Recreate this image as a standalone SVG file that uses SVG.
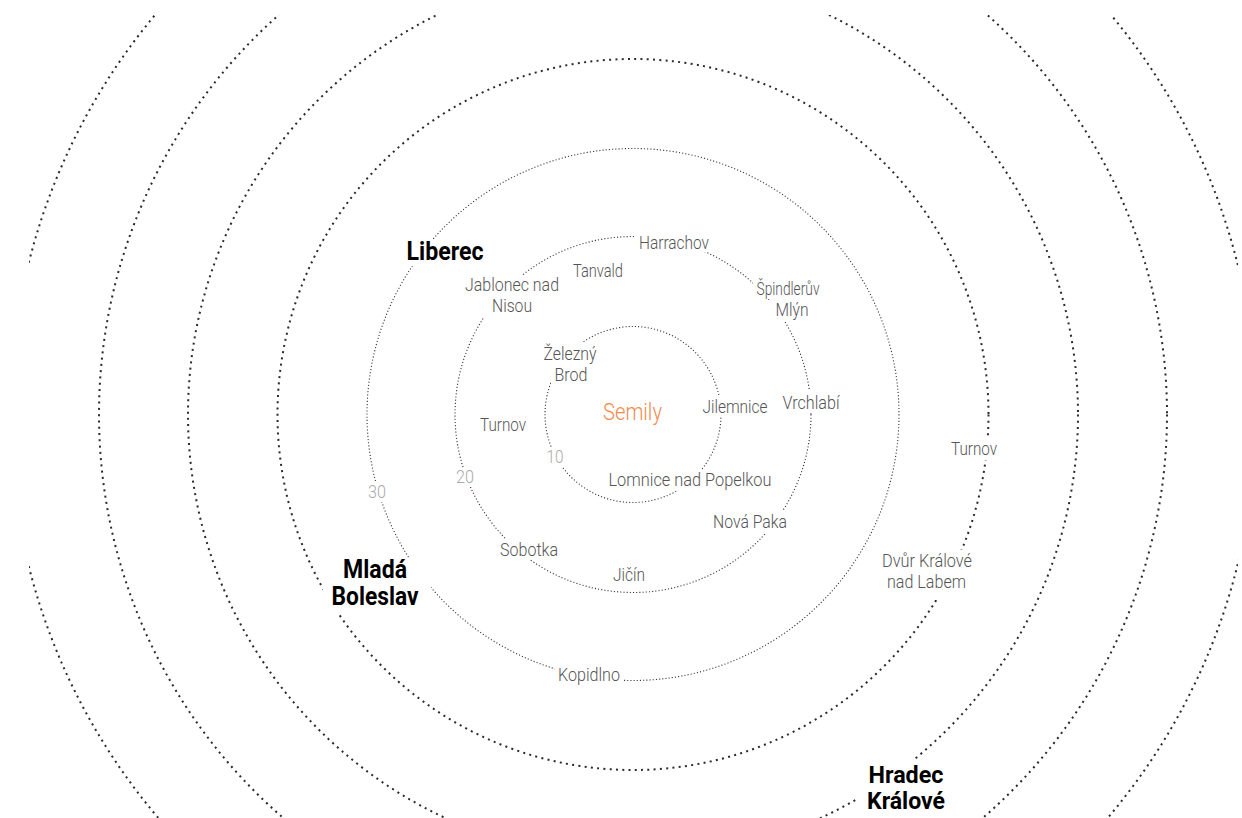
<svg xmlns="http://www.w3.org/2000/svg" width="1242" height="818" viewBox="0 0 1242 818">
<style>
.fine{fill:none;stroke:#333;stroke-width:1.1;stroke-dasharray:1.1 2.1}
.bold{fill:none;stroke:#2a2a2a;stroke-width:2;stroke-dasharray:2 4.3}
.bg{fill:#fff}
.t{font-family:Roboto,"Liberation Sans",sans-serif;font-weight:300;font-size:19px;fill:#555;text-anchor:middle}
.n{font-family:Roboto,"Liberation Sans",sans-serif;font-weight:300;font-size:18px;fill:#aaa;text-anchor:middle}
.b{font-family:Roboto,"Liberation Sans",sans-serif;font-weight:700;font-size:25px;fill:#000;text-anchor:middle}
.b2{font-family:Roboto,"Liberation Sans",sans-serif;font-weight:700;font-size:23.5px;fill:#000;text-anchor:middle}
.c{font-family:Roboto,"Liberation Sans",sans-serif;font-weight:300;font-size:24px;fill:#f28a4c;text-anchor:middle}
</style>
<defs>
<clipPath id="clip"><rect x="29" y="15" width="1209" height="803"/></clipPath>
</defs>
<rect width="1242" height="818" fill="#fff"/>
<g id="rings" clip-path="url(#clip)">
<circle class="fine" cx="633" cy="414.5" r="88"/>
<circle class="fine" cx="633" cy="414.5" r="178"/>
<circle class="fine" cx="633" cy="414.5" r="266"/>
<circle class="bold" cx="633" cy="414.5" r="355.5"/>
<circle class="bold" cx="633" cy="414.5" r="445"/>
<circle class="bold" cx="633" cy="414.5" r="534"/>
<circle class="bold" cx="633" cy="414.5" r="623"/>
</g>
<g id="semily"><rect class="bg" x="599" y="400" width="66" height="26"/><text class="c" x="632.5" y="420" textLength="59" lengthAdjust="spacingAndGlyphs">Semily</text></g>
<g id="harrachov"><rect class="bg" x="636" y="234" width="76" height="18"/><text class="t" x="674" y="249" textLength="70" lengthAdjust="spacingAndGlyphs">Harrachov</text></g>
<g id="tanvald"><rect class="bg" x="570" y="261" width="56" height="20"/><text class="t" x="598" y="277" textLength="50" lengthAdjust="spacingAndGlyphs">Tanvald</text></g>
<g id="jablonec"><rect class="bg" x="462" y="275" width="100" height="20"/><rect class="bg" x="484" y="295" width="56" height="23"/><text class="t" x="512" y="291" textLength="94" lengthAdjust="spacingAndGlyphs">Jablonec nad</text><text class="t" x="512" y="312" textLength="40" lengthAdjust="spacingAndGlyphs">Nisou</text></g>
<g id="spindleruv"><rect class="bg" x="753" y="277" width="69" height="22"/><rect class="bg" x="770" y="299" width="44" height="23"/><text class="t" x="788" y="295" textLength="63" lengthAdjust="spacingAndGlyphs">Špindlerův</text><text class="t" x="792" y="316" textLength="33" lengthAdjust="spacingAndGlyphs">Mlýn</text></g>
<g id="zelezny"><rect class="bg" x="540" y="342" width="60" height="24"/><rect class="bg" x="551" y="366" width="40" height="19"/><text class="t" x="570" y="360" textLength="53" lengthAdjust="spacingAndGlyphs">Železný</text><text class="t" x="571" y="381" textLength="33" lengthAdjust="spacingAndGlyphs">Brod</text></g>
<g id="jilemnice"><rect class="bg" x="699" y="396" width="72" height="21"/><text class="t" x="735" y="413" textLength="65" lengthAdjust="spacingAndGlyphs">Jilemnice</text></g>
<g id="vrchlabi"><rect class="bg" x="779" y="391" width="64" height="22"/><text class="t" x="811" y="409" textLength="57" lengthAdjust="spacingAndGlyphs">Vrchlabí</text></g>
<g id="turnov-in"><rect class="bg" x="477" y="415" width="52" height="20"/><text class="t" x="503" y="431" textLength="46" lengthAdjust="spacingAndGlyphs">Turnov</text></g>
<g id="km10"><rect class="bg" x="543" y="448" width="24" height="19"/><text class="n" x="555" y="463" textLength="17" lengthAdjust="spacingAndGlyphs">10</text></g>
<g id="km20"><rect class="bg" x="453" y="468" width="24" height="19"/><text class="n" x="465" y="483" textLength="18" lengthAdjust="spacingAndGlyphs">20</text></g>
<g id="km30"><rect class="bg" x="365" y="481" width="24" height="21"/><text class="n" x="377" y="498" textLength="18" lengthAdjust="spacingAndGlyphs">30</text></g>
<g id="lomnice"><rect class="bg" x="605" y="470" width="169" height="21"/><text class="t" x="690" y="486" textLength="163" lengthAdjust="spacingAndGlyphs">Lomnice nad Popelkou</text></g>
<g id="novapaka"><rect class="bg" x="710" y="511" width="80" height="22"/><text class="t" x="750" y="528" textLength="74" lengthAdjust="spacingAndGlyphs">Nová Paka</text></g>
<g id="sobotka"><rect class="bg" x="497" y="539" width="64" height="21"/><text class="t" x="529" y="556" textLength="58" lengthAdjust="spacingAndGlyphs">Sobotka</text></g>
<g id="jicin"><rect class="bg" x="610" y="565" width="38" height="20"/><text class="t" x="629" y="581" textLength="32" lengthAdjust="spacingAndGlyphs">Jičín</text></g>
<g id="kopidlno"><rect class="bg" x="555" y="665" width="68" height="21"/><text class="t" x="589" y="681" textLength="62" lengthAdjust="spacingAndGlyphs">Kopidlno</text></g>
<g id="turnov-out"><rect class="bg" x="948" y="438" width="52" height="22"/><text class="t" x="974" y="455" textLength="46" lengthAdjust="spacingAndGlyphs">Turnov</text></g>
<g id="dvur"><rect class="bg" x="879" y="550" width="96" height="22"/><rect class="bg" x="883" y="572" width="86" height="28"/><text class="t" x="927" y="567" textLength="90" lengthAdjust="spacingAndGlyphs">Dvůr Králové</text><text class="t" x="926.5" y="588" textLength="79" lengthAdjust="spacingAndGlyphs">nad Labem</text></g>
<g id="liberec"><rect class="bg" x="404" y="240" width="84" height="26"/><text class="b" x="445" y="260" textLength="77" lengthAdjust="spacingAndGlyphs">Liberec</text></g>
<g id="mlada"><rect class="bg" x="323" y="559" width="108" height="55"/><text class="b" x="375" y="578" textLength="64" lengthAdjust="spacingAndGlyphs">Mladá</text><text class="b" x="375" y="605" textLength="87" lengthAdjust="spacingAndGlyphs">Boleslav</text></g>
<g id="hradec"><rect class="bg" x="858" y="760" width="97" height="56"/><text class="b2" x="906" y="782.5" textLength="75" lengthAdjust="spacingAndGlyphs">Hradec</text><text class="b2" x="906" y="808.5" textLength="78" lengthAdjust="spacingAndGlyphs">Králové</text></g>
</svg>
